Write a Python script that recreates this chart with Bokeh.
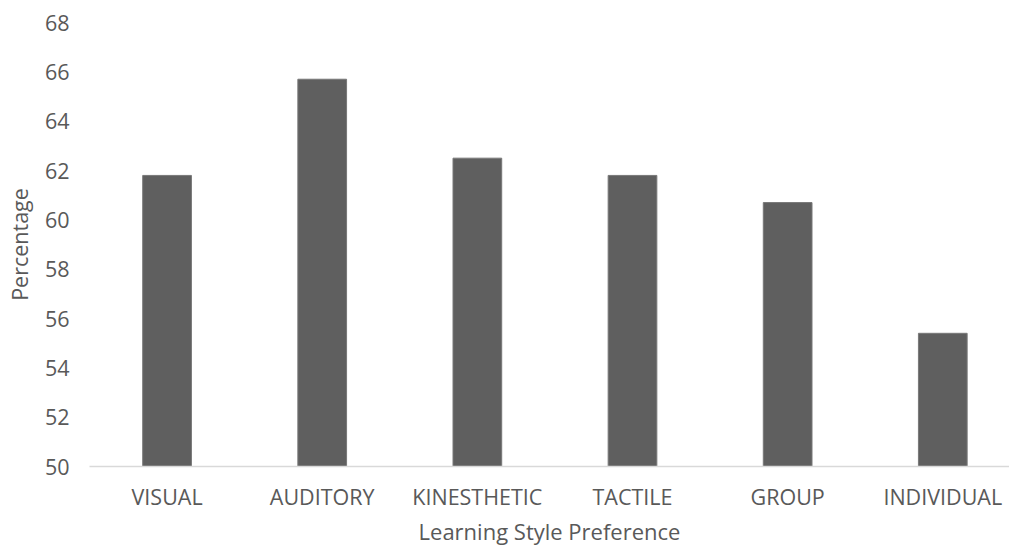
from bokeh.plotting import figure
from bokeh.models import Range1d, FixedTicker, ColumnDataSource
from bokeh.embed import file_html
from bokeh.resources import INLINE

categories = ["VISUAL", "AUDITORY", "KINESTHETIC", "TACTILE", "GROUP", "INDIVIDUAL"]
percentages = [61.8, 65.7, 62.5, 61.8, 60.7, 55.4]
y_ticks = [50, 52, 54, 56, 58, 60, 62, 64, 66, 68]

x_pos = [i + 0.5 for i in range(len(categories))]
src = ColumnDataSource(dict(x=x_pos, top=percentages, cat=categories))

FONT = "Open Sans"
TXT = "#595959"
TICK_FS = "21.5px"
TITLE_FS = "22px"

p = figure(width=1009, height=548, output_backend="svg", toolbar_location=None,
           x_range=Range1d(0, 5.93), y_range=Range1d(50, 68),
           min_border_left=89, min_border_right=0, min_border_top=22, min_border_bottom=82)

p.vbar(x="x", top="top", bottom=50, width=0.314, source=src,
       fill_color="#5f5f5f", line_color="#787878", line_width=1)

p.xgrid.visible = False
p.ygrid.visible = False
p.outline_line_color = None
p.background_fill_color = "white"
p.border_fill_color = "white"

# x axis
p.xaxis.ticker = FixedTicker(ticks=x_pos)
p.xaxis.major_label_overrides = {x: c for x, c in zip(x_pos, categories)}
p.xaxis.axis_line_color = "#d9d9d9"
p.xaxis.axis_line_width = 1.5
p.xaxis.major_tick_line_color = None
p.xaxis.minor_tick_line_color = None
p.xaxis.major_label_standoff = 9
p.xaxis.major_label_text_font = FONT
p.xaxis.major_label_text_font_size = TICK_FS
p.xaxis.major_label_text_color = TXT
p.xaxis.axis_label = "Learning Style Preference"
p.xaxis.axis_label_text_font = FONT
p.xaxis.axis_label_text_font_size = TITLE_FS
p.xaxis.axis_label_text_font_style = "normal"
p.xaxis.axis_label_text_color = TXT
p.xaxis.axis_label_standoff = 2

# y axis
p.yaxis.ticker = FixedTicker(ticks=y_ticks)
p.yaxis.axis_line_color = None
p.yaxis.major_tick_line_color = None
p.yaxis.minor_tick_line_color = None
p.yaxis.major_label_standoff = 14
p.yaxis.major_label_text_font = FONT
p.yaxis.major_label_text_font_size = TICK_FS
p.yaxis.major_label_text_color = TXT
p.yaxis.axis_label = "Percentage"
p.yaxis.axis_label_text_font = FONT
p.yaxis.axis_label_text_font_size = TICK_FS
p.yaxis.axis_label_text_font_style = "normal"
p.yaxis.axis_label_text_color = TXT
p.yaxis.axis_label_standoff = 8

open("out.html", "w").write(file_html(p, INLINE))
